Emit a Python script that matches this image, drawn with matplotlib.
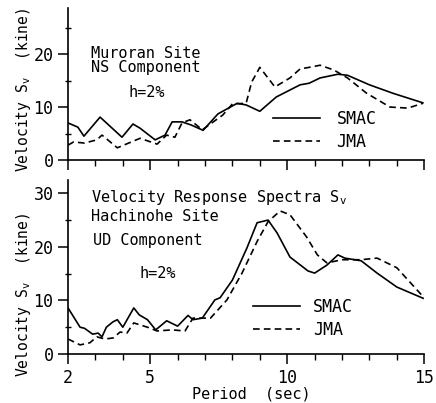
import numpy as np
import matplotlib
matplotlib.use('Agg')
import matplotlib.pyplot as plt
from matplotlib.ticker import MultipleLocator

# ------------------------------------------------------------
# velocity response spectra, h = 2%
# ------------------------------------------------------------
# Muroran, NS component
mur_smac_T = [2.0, 2.36, 2.58, 3.17, 3.97, 4.37, 4.63, 5.18, 5.54, 5.8, 6.16,
              6.5, 6.93, 7.47, 8.17, 8.5, 9.0, 9.6, 10.47, 10.8, 11.2, 11.85,
              12.2, 13.0, 13.86, 14.95]
mur_smac_S = [7.0, 6.2, 4.5, 8.1, 4.3, 6.8, 6.0, 3.8, 4.7, 7.2, 7.2,
              6.6, 5.6, 8.7, 10.7, 10.4, 9.2, 11.9, 14.2, 14.5, 15.5, 16.2,
              16.0, 14.2, 12.6, 10.8]

mur_jma_T = [2.0, 2.2, 2.6, 3.05, 3.24, 3.8, 4.63, 5.25, 5.6, 5.9, 6.16,
             6.45, 6.9, 7.65, 8.0, 8.5, 8.7, 9.0, 9.55, 10.1, 10.47, 10.8,
             11.2, 11.7, 12.2, 12.9, 13.75, 14.4, 14.95]
mur_jma_S = [2.8, 3.4, 3.2, 3.8, 4.7, 2.3, 4.1, 3.0, 4.7, 4.3, 7.0,
             7.6, 5.7, 8.5, 10.6, 10.7, 14.7, 17.5, 13.8, 15.5, 17.2, 17.5,
             17.9, 17.0, 15.5, 12.6, 10.0, 9.8, 10.7]

# Hachinohe, UD component
hac_smac_T = [2.0, 2.44, 2.6, 2.9, 3.1, 3.24, 3.4, 3.64, 3.8, 4.0, 4.4, 4.6,
              4.9, 5.2, 5.6, 6.0, 6.38, 6.56, 6.9, 7.36, 7.55, 8.0, 8.53,
              8.9, 9.3, 9.63, 10.1, 10.76, 11.0, 11.45, 11.85, 12.1, 12.7,
              13.28, 14.0, 14.96]
hac_smac_S = [8.6, 5.0, 4.8, 3.7, 3.9, 3.2, 5.0, 6.0, 6.4, 5.0, 8.6, 7.3,
              6.4, 4.5, 6.2, 5.2, 7.2, 6.4, 6.7, 10.1, 10.5, 13.8, 19.8,
              24.5, 25.0, 22.6, 18.1, 15.5, 15.1, 16.6, 18.5, 17.9, 17.4,
              15.1, 12.5, 10.4]

hac_jma_T = [2.0, 2.44, 2.8, 3.05, 3.35, 3.65, 3.9, 4.15, 4.4, 4.9, 5.25,
             5.8, 6.27, 6.56, 7.2, 7.8, 8.35, 8.9, 9.3, 9.74, 10.1, 10.7,
             11.1, 11.45, 12.0, 12.7, 13.28, 14.0, 14.96]
hac_jma_S = [2.8, 1.7, 2.1, 3.2, 2.8, 3.0, 4.1, 3.9, 5.8, 5.0, 4.3,
             4.5, 4.3, 6.7, 6.7, 10.1, 15.1, 21.0, 24.7, 26.7, 26.0, 21.9,
             18.5, 17.0, 17.6, 17.6, 17.9, 16.1, 10.7]

xticks = [2, 5, 10, 15]

plt.rcParams['font.family'] = 'DejaVu Sans Mono'
plt.rcParams['font.size'] = 11

fig = plt.figure(figsize=(4.36, 4.03), dpi=100)
ax1 = fig.add_axes([0.156, 0.603, 0.817, 0.377])
ax2 = fig.add_axes([0.156, 0.1216, 0.817, 0.432])


def style(ax, ytop, ymajor):
    ax.set_xlim(2, 15)
    ax.set_ylim(0, ytop)
    for s in ['top', 'right']:
        ax.spines[s].set_visible(False)
    for s in ['left', 'bottom']:
        ax.spines[s].set_linewidth(1.2)
    ax.set_xticks(xticks)
    ax.xaxis.set_minor_locator(MultipleLocator(1))
    ax.yaxis.set_minor_locator(MultipleLocator(5))
    ax.set_yticks(ymajor)
    ax.tick_params(axis='both', which='major', length=7, width=1.1,
                   direction='out', labelsize=12)
    ax.tick_params(axis='x', which='minor', length=4, width=1.0,
                   direction='out')
    ax.tick_params(axis='y', which='minor', length=5, width=1.0,
                   direction='inout')
    ax.set_ylabel('Velocity S$_\\mathregular{v}$  (kine)', fontsize=10.5)


# --- Muroran ---
ax1.plot(mur_smac_T, mur_smac_S, 'k-', lw=1.2, label='SMAC')
ax1.plot(mur_jma_T, mur_jma_S, 'k--', lw=1.2, dashes=(4, 2.5), label='JMA')
style(ax1, 28.7, [0, 10, 20])
ax1.tick_params(axis='x', labelbottom=False)
ax1.yaxis.set_label_coords(-0.098, 0.46)
ax1.text(2.84, 20.2, 'Muroran Site', va='center', ha='left')
ax1.text(2.84, 17.4, 'NS Component', va='center', ha='left')
ax1.text(4.19, 12.8, 'h=2%', va='center', ha='left')
ax1.legend(loc='upper left', bbox_to_anchor=(0.576, 0.33), frameon=False,
           handlelength=2.8, handletextpad=1.0, labelspacing=0.3,
           borderpad=0, borderaxespad=0, fontsize=12)

# --- Hachinohe ---
ax2.plot(hac_smac_T, hac_smac_S, 'k-', lw=1.2, label='SMAC')
ax2.plot(hac_jma_T, hac_jma_S, 'k--', lw=1.2, dashes=(4, 2.5), label='JMA')
style(ax2, 32.5, [0, 10, 20, 30])
ax2.yaxis.set_label_coords(-0.098, 0.34)
ax2.set_xlabel('Period  (sec)', fontsize=11)
ax2.xaxis.set_label_coords(0.515, -0.185)
ax2.text(2.84, 29.2, 'Velocity Response Spectra S$_\\mathregular{v}$',
         va='center', ha='left')
ax2.text(2.84, 25.6, 'Hachinohe Site', va='center', ha='left')
ax2.text(2.9, 21.1, 'UD Component', va='center', ha='left')
ax2.text(4.6, 15.0, 'h=2%', va='center', ha='left')
ax2.legend(loc='upper left', bbox_to_anchor=(0.52, 0.32), frameon=False,
           handlelength=2.8, handletextpad=0.8, labelspacing=0.3,
           borderpad=0, borderaxespad=0, fontsize=12)

plt.savefig('out.png', dpi=100)
